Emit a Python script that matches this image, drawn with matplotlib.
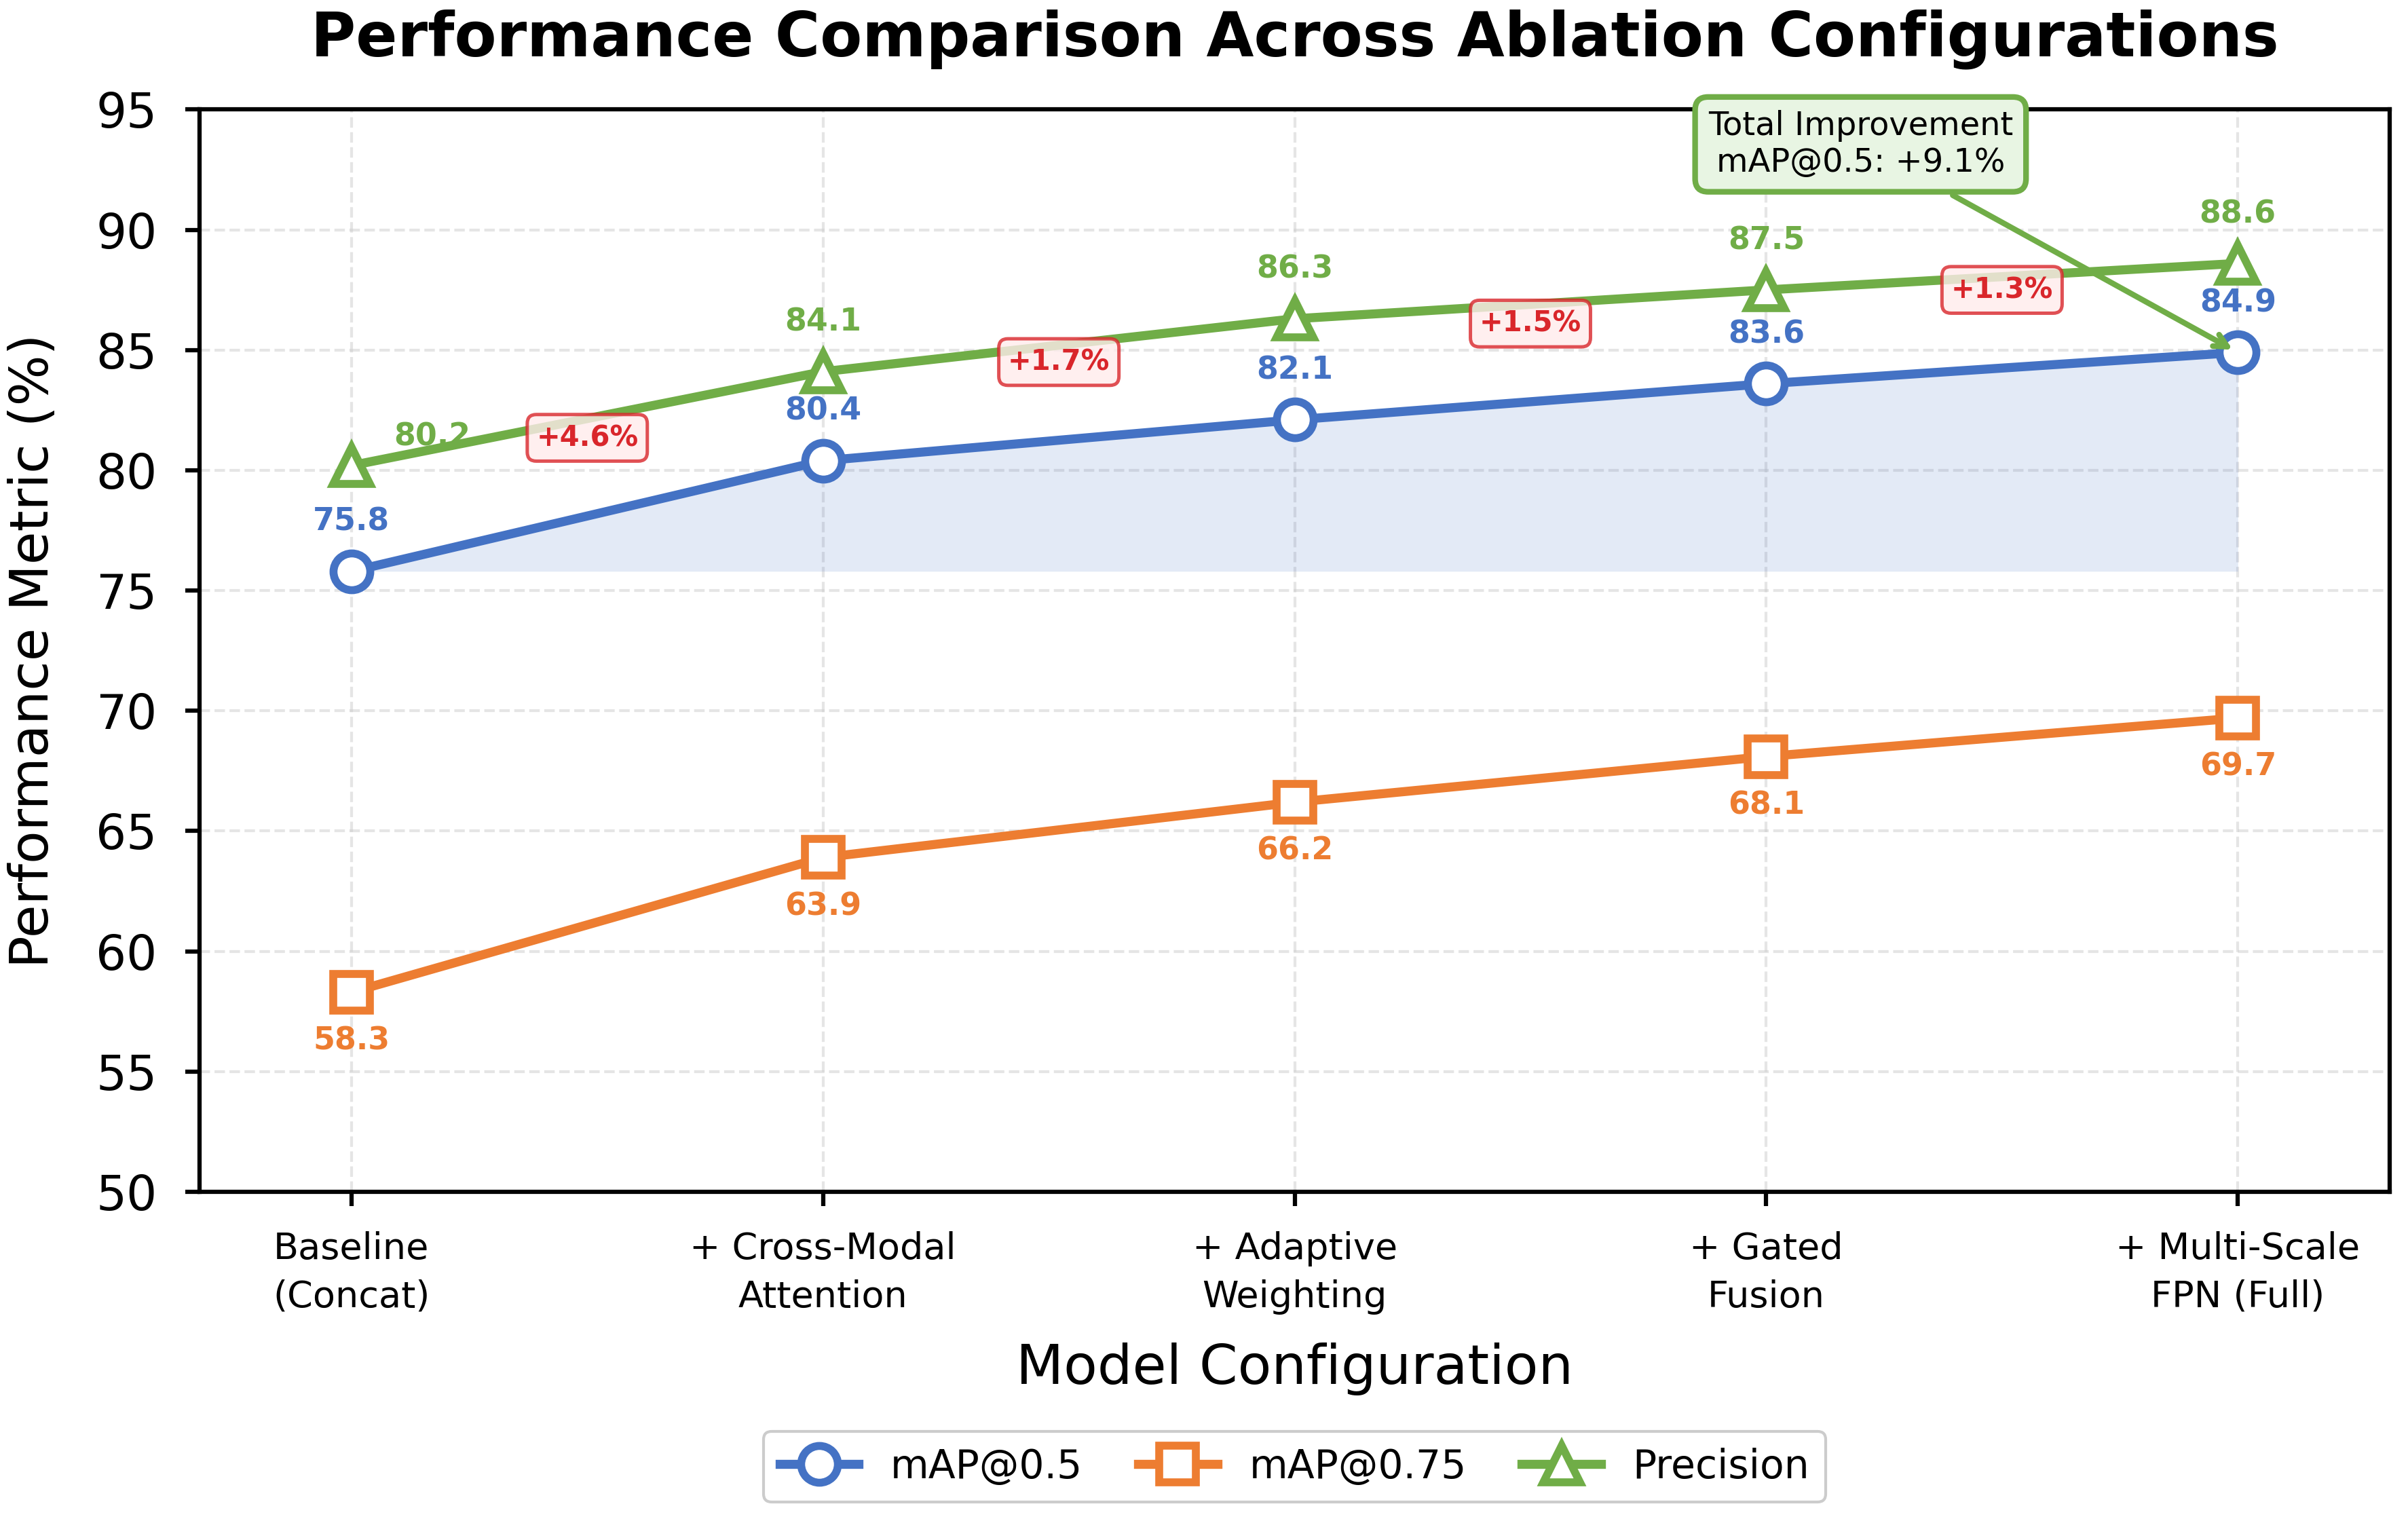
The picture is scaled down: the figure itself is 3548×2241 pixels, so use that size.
import matplotlib
matplotlib.use("Agg")
import matplotlib.pyplot as plt
import numpy as np

configs = ["Baseline\n(Concat)", "+ Cross-Modal\nAttention", "+ Adaptive\nWeighting",
           "+ Gated\nFusion", "+ Multi-Scale\nFPN (Full)"]
map50 = [75.8, 80.4, 82.1, 83.6, 84.9]
map75 = [58.3, 63.9, 66.2, 68.1, 69.7]
precision = [80.2, 84.1, 86.3, 87.5, 88.6]
deltas = ["+4.6%", "+1.7%", "+1.5%", "+1.3%"]
yticks = [50, 55, 60, 65, 70, 75, 80, 85, 90, 95]

c_blue = "#4472C4"
c_orange = "#ED7D31"
c_green = "#70AD47"
c_red = "#D9262B"

fig = plt.figure(figsize=(3548 / 300, 2241 / 300), dpi=300)
ax = fig.add_axes([0.0829, 0.2164, 0.9095, 0.7116])

x = np.arange(len(configs))

ax.fill_between(x, map50, map50[0], color=c_blue, alpha=0.15, linewidth=0, zorder=1)

mk = dict(markersize=13, markeredgewidth=2.8, markerfacecolor="white", linewidth=3.2)
ax.plot(x, map50, marker="o", color=c_blue, label="mAP@0.5", zorder=4, **mk)
ax.plot(x, map75, marker="s", color=c_orange, label="mAP@0.75", zorder=4, **mk)
ax.plot(x, precision, marker="^", color=c_green, label="Precision", zorder=4, **mk)

lblfs = 11
for i, v in enumerate(map50):
    ax.annotate(f"{v:.1f}", (x[i], v), xytext=(0, 12), textcoords="offset points",
                ha="center", va="bottom", fontsize=lblfs, fontweight="bold", color=c_blue, zorder=6)
for i, v in enumerate(map75):
    ax.annotate(f"{v:.1f}", (x[i], v), xytext=(0, -12), textcoords="offset points",
                ha="center", va="top", fontsize=lblfs, fontweight="bold", color=c_orange, zorder=6)
for i, v in enumerate(precision):
    if i == 0:
        ax.annotate(f"{v:.1f}", (x[i], v), xytext=(15, 10), textcoords="offset points",
                    ha="left", va="center", fontsize=lblfs, fontweight="bold", color=c_green, zorder=6)
    else:
        ax.annotate(f"{v:.1f}", (x[i], v), xytext=(0, 12), textcoords="offset points",
                    ha="center", va="bottom", fontsize=lblfs, fontweight="bold", color=c_green, zorder=6)

for i, d in enumerate(deltas):
    xm = (x[i] + x[i + 1]) / 2
    ym = (map50[i] + map50[i + 1]) / 2 + 3.25
    ax.text(xm, ym, d, ha="center", va="center", fontsize=10, fontweight="bold", color=c_red,
            zorder=7,
            bbox=dict(boxstyle="round,pad=0.32", facecolor="#FFECEC", edgecolor=c_red, alpha=0.8, linewidth=1.2))

ax.annotate("Total Improvement\nmAP@0.5: +9.1%", xy=(x[-1], map50[-1]), xytext=(3.2, 93.55),
            ha="center", va="center", fontsize=11.5, zorder=8, annotation_clip=False,
            bbox=dict(boxstyle="round,pad=0.4", facecolor="#E8F5E3", edgecolor=c_green, linewidth=2),
            arrowprops=dict(arrowstyle="->", color=c_green, lw=2))

ax.set_xlim(-0.322, 4.322)
ax.set_ylim(50, 95)
ax.set_yticks(yticks)
ax.set_xticks(x)
ax.set_xticklabels(configs, fontsize=13, linespacing=1.45)
ax.tick_params(axis="y", labelsize=17, width=1.5, length=5, pad=10)
ax.tick_params(axis="x", width=1.5, length=5, pad=9)
ax.grid(True, linestyle="--", color="#cccccc", alpha=0.5, linewidth=1)
ax.set_axisbelow(True)
for s in ax.spines.values():
    s.set_linewidth(1.5)
    s.set_color("black")

ax.set_xlabel("Model Configuration", fontsize=19.5, labelpad=10)
ax.set_ylabel("Performance Metric (%)", fontsize=19, labelpad=13)
ax.set_title("Performance Comparison Across Ablation Configurations", fontsize=21.7,
             fontweight="bold", pad=19)

ax.legend(loc="center", bbox_to_anchor=(0.5, -0.254), ncol=3,
          fontsize=14, frameon=True, fancybox=True, shadow=False, framealpha=1.0,
          edgecolor="#cccccc", handlelength=2.0, columnspacing=1.4)

fig.savefig("out.png", dpi=300)
